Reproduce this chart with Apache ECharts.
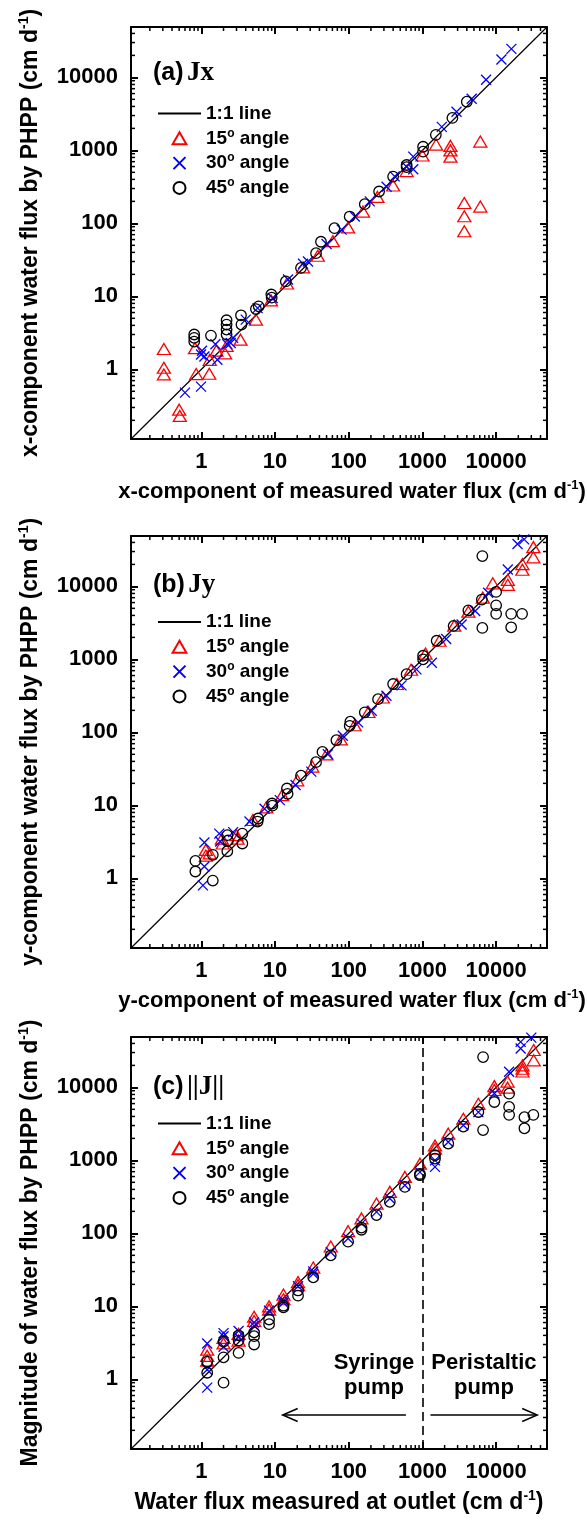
<!DOCTYPE html>
<html><head><meta charset="utf-8">
<script src="https://cdn.jsdelivr.net/npm/echarts@6/dist/echarts.min.js"></script>
<style>html,body{margin:0;padding:0;background:#fff}#c{width:587px;height:1522px}</style>
</head><body><div id="c"></div>
<script>
// ---------------- data ----------------
const AXIS_MIN = 0.111, AXIS_MAX = 49000;
const majorTickLabels = ['1', '10', '100', '1000', '10000'];
const minorMultipliers = [2, 3, 4, 5, 6, 7, 8, 9];
const minorDecades = [0.1, 1, 10, 100, 1000, 10000];

const seriesNames = ['1:1 line', '15° angle', '30° angle', '45° angle'];

// panel (a) Jx
const a15 = [[0.31,1.9],[0.31,1.05],[0.31,0.85],[0.50,0.28],[0.51,0.23],[0.82,1.95],[0.85,0.86],[1.28,0.87],[1.3,1.35],[1.6,1.8],[2.1,1.65],[2.2,2.1],[3.4,2.55],[5.5,4.8],[8.8,8.8],[14.5,15],[24,25],[38,36],[61,57],[98,88],[156,145],[245,230],[400,330],[610,520],[1000,850],[1530,1200],[2400,1150],[2400,1000],[2400,820],[3700,190],[3700,125],[3700,78],[6100,1320],[6100,170]];
const a30 = [[0.60,0.48],[0.99,0.58],[0.99,1.6],[1.02,1.8],[1.1,1.5],[1.55,2.2],[1.65,1.35],[2.25,2.2],[2.5,2.3],[2.7,2.7],[4.0,4.8],[5.8,6.9],[9.3,9.5],[15,17],[24,28],[28,30],[50,52],[80,82],[121,124],[193,200],[326,318],[420,440],[610,595],[750,550],[750,820],[1830,2100],[2900,3380],[4660,5100],[7300,9300],[11800,17600],[16100,24600]];
const a45 = [[0.80,3.0],[0.80,2.7],[0.80,2.4],[1.35,2.9],[2.2,4.7],[2.2,4.1],[2.2,3.5],[2.2,3.0],[3.45,5.5],[3.5,4.1],[5.5,6.7],[6.0,7.3],[8.9,10.6],[9.0,9.6],[14,16],[22.5,24.5],[36,39],[42,56],[64,86],[103,124],[165,183],[258,273],[400,437],[610,630],[610,590],[1020,1120],[1020,960],[1520,1630],[2550,2780],[4000,4640]];

// panel (b) Jy
const b15 = [[1.15,2.45],[1.15,2.05],[1.3,2.2],[1.9,3.5],[1.95,3.0],[3.0,3.9],[3.1,3.5],[5.0,6.3],[7.6,9.4],[12.5,13.8],[20,22],[32,34],[50,50],[78,80],[120,125],[185,190],[290,300],[450,460],[700,720],[1100,1200],[1700,1800],[2700,2900],[4200,4500],[6600,7000],[9000,11000],[14400,12300],[14400,10500],[22700,20200],[22700,16900],[32000,34500],[32000,25000]];
const b30 = [[1.05,0.80],[1.1,1.45],[1.1,3.1],[1.75,4.1],[1.8,3.2],[2.7,4.3],[4.5,6.0],[7.2,9.0],[11.6,11.8],[19,19],[31,29],[52,50],[83,90],[134,137],[205,198],[325,318],[520,440],[830,730],[1340,900],[2100,1900],[3400,3000],[5200,4600],[7800,8200],[14400,17000],[19500,38000],[24000,44000]];
const b45 = [[0.83,1.73],[0.83,1.24],[1.43,2.1],[1.43,0.93],[2.25,2.35],[2.25,3.9],[2.3,3.3],[3.6,3.0],[3.6,4.1],[5.8,6.0],[5.9,6.6],[9.1,10.6],[9.2,9.9],[14.5,17],[14.8,14.4],[22.5,25.5],[36,39],[44,54],[68,78],[103,123],[105,140],[165,188],[250,285],[400,460],[610,627],[1020,1120],[1020,1000],[1560,1800],[2650,2870],[4200,4700],[6400,6600],[6500,26000],[6500,2700],[10000,8400],[10000,5500],[10000,4200],[16000,2750],[16000,4200],[22500,4200]];

// panel (c) ||J||
const c15 = [[1.2,2.55],[1.2,2.1],[1.2,1.8],[2.0,3.7],[2.0,3.1],[3.2,4.2],[3.2,3.4],[5.2,7.2],[5.2,6.3],[8.3,10],[8.3,9],[13,14.5],[13,12.5],[20.5,21.5],[20.5,19.5],[33,34],[57,66],[98,107],[149,160],[238,256],[361,370],[578,593],[925,900],[1480,1450],[1480,1600],[2240,2320],[3590,3720],[5740,5950],[9460,10400],[9460,9200],[14300,12000],[14300,9900],[22800,20000],[22800,16500],[22800,18000],[32300,32500],[32300,23500]];
const c30 = [[1.2,3.1],[1.2,1.35],[1.2,0.77],[2.0,4.3],[2.0,3.9],[2.0,2.8],[3.2,4.6],[3.2,3.8],[5.2,6.0],[5.2,5.4],[8.3,8.7],[13,11.2],[13,12],[20.5,18.8],[33,30],[33,28],[57,55],[98,85],[149,136],[238,197],[361,300],[578,457],[925,690],[1480,1000],[1480,815],[2240,1780],[3590,3020],[5740,4580],[9460,8250],[15000,16400],[21500,42000],[21500,34000],[30000,48000]];
const c45 = [[1.2,1.75],[1.2,1.23],[2.0,3.3],[2.0,2.0],[2.0,0.9],[3.2,4.0],[3.2,3.4],[3.2,2.3],[5.2,4.4],[5.2,3.9],[5.2,3.0],[8.3,6.6],[8.3,5.7],[13,10.2],[13,9.7],[20.5,16.5],[20.5,14],[33,25],[57,50],[98,77],[149,120],[149,112],[238,178],[361,270],[578,433],[925,626],[925,650],[1480,1175],[1480,1055],[2240,1700],[3590,2900],[5740,4600],[6650,26000],[6650,2600],[9460,6300],[15000,8200],[15000,5400],[15000,4200],[24200,3900],[24200,2750],[32000,4200]];

// annotations in panel (c)
const pumpBoundary = 1000;
const pumpArrows = [[597, 12.7, 0.324], [1285, 36100, 0.324]];
const pumpLabels = ['Syringe\npump', 'Peristaltic\npump'];
const pumpLabelPos = [[220, 1.12], [6830, 1.12]];

const panelTitles = [['(a)', 'Jx'], ['(b)', 'Jy'], ['(c)', '||J||']];
const xNames = ['x-component of measured water flux (cm d', 'y-component of measured water flux (cm d', 'Water flux measured at outlet (cm d'];
const yNames = ['x-component water flux by PHPP (cm d', 'y-component water flux by PHPP (cm d', 'Magnitude of water flux by PHPP (cm d'];

// ---------------- chart ----------------
const minorTicks = [];
minorDecades.forEach(d => minorMultipliers.forEach(m => {
  const v = +(m * d).toPrecision(3);
  if (v > AXIS_MIN && v < AXIS_MAX) minorTicks.push(v);
}));

const SANS = '"Liberation Sans", Arial, Helvetica, sans-serif';
const SERIF = '"Liberation Serif", "Times New Roman", serif';
const panelData = [[a15, a30, a45], [b15, b30, b45], [c15, c30, c45]];
const gridTops = [27, 536, 1037];
const GRID_LEFT = 131, GRID_W = 416, GRID_H = 412;

function makeNameRich(fs) {
  return {
    n: {fontSize: fs, fontWeight: 'bold', fontFamily: SANS, color: '#000', lineHeight: fs + 4},
    s: {fontSize: Math.round(fs * 0.6), fontWeight: 'bold', fontFamily: SANS, color: '#000', lineHeight: 13, verticalAlign: 'top'}
  };
}
function richName(t) { return '{n|' + t + '}{s|-1}{n|)}'; }

function fmtLegend(name) {
  const p = name.split('°');
  if (p.length === 2) return '{n|' + p[0] + '}{s|o}{n|' + p[1] + '}';
  return '{n|' + name + '}';
}
const legendRich = {
  n: {fontSize: 19, fontWeight: 'bold', fontFamily: SANS, color: '#000', lineHeight: 22},
  s: {fontSize: 12, fontWeight: 'bold', fontFamily: SANS, color: '#000', lineHeight: 12, verticalAlign: 'top'}
};

function tickFmt(v) {
  const r = String(Math.round(v));
  return majorTickLabels.indexOf(r) >= 0 && Math.abs(v - Math.round(v)) < 1e-6 * Math.max(1, v) ? r : '';
}

const grid = [], xAxis = [], yAxis = [], series = [], legend = [], graphic = [];
const axisLineStyle = {color: '#000', width: 2};
const tickStyle = {color: '#000', width: 2};
const labelStyle = {color: '#000', fontSize: 22, fontWeight: 'bold', fontFamily: SANS, lineHeight: 24};

function renderMinor(params, api) {
  const v = api.value(0);
  const cs = params.coordSys;
  const px = api.coord([v, AXIS_MIN])[0];
  const py = api.coord([AXIS_MIN, v])[1];
  const L = 4, st = {stroke: '#000', lineWidth: 1.5};
  const b = cs.y + cs.height, r = cs.x + cs.width;
  return {type: 'group', children: [
    {type: 'line', shape: {x1: px, y1: b, x2: px, y2: b - L}, style: st},
    {type: 'line', shape: {x1: px, y1: cs.y, x2: px, y2: cs.y + L}, style: st},
    {type: 'line', shape: {x1: cs.x, y1: py, x2: cs.x + L, y2: py}, style: st},
    {type: 'line', shape: {x1: r, y1: py, x2: r - L, y2: py}, style: st}
  ]};
}

function renderArrow(params, api) {
  const p1 = api.coord([api.value(0), api.value(2)]);
  const p2 = api.coord([api.value(1), api.value(2)]);
  const d = p2[0] > p1[0] ? 1 : -1;
  const st = {stroke: '#000', lineWidth: 1.5, fill: 'none'};
  return {type: 'group', children: [
    {type: 'line', shape: {x1: p1[0], y1: p1[1], x2: p2[0], y2: p2[1]}, style: st},
    {type: 'polyline', shape: {points: [[p2[0] - d * 15, p2[1] - 6.5], [p2[0], p2[1]], [p2[0] - d * 15, p2[1] + 6.5]]}, style: st}
  ]};
}

function renderPumpLabel(params, api) {
  const p = api.coord([api.value(0), api.value(1)]);
  return {type: 'text', x: p[0], y: p[1], style: {
    text: pumpLabels[params.dataIndex], fill: '#000', fontSize: 22, fontWeight: 'bold', fontFamily: SANS,
    align: 'center', verticalAlign: 'middle', lineHeight: 25
  }};
}

const styles = [
  {symbol: 'triangle', symbolSize: [13, 11], color: '#ff0000', icon: 'path://M5,0L10,8.7L0,8.7Z'},
  {symbol: 'path://M0,0L10,10M10,0L0,10', symbolSize: 10, color: '#0000ff', icon: 'path://M0,0L10,10M10,0L0,10'},
  {symbol: 'circle', symbolSize: 10.5, color: '#000000', icon: 'circle'}
];

const xNameFont = [22, 22, 23];
const xNamePad = [[0, 0, 0, 26], [0, 0, 0, 26], 0];

for (let i = 0; i < 3; i++) {
  grid.push({left: GRID_LEFT, top: gridTops[i], width: GRID_W, height: GRID_H, outerBoundsMode: 'none', containLabel: false});
  xAxis.push({
    type: 'log', logBase: 10, gridIndex: i, position: 'bottom', min: AXIS_MIN, max: AXIS_MAX,
    axisLine: {show: true, lineStyle: axisLineStyle},
    axisTick: {show: true, inside: true, length: 7, lineStyle: tickStyle, interval: 0},
    axisLabel: Object.assign({show: true, margin: 11, interval: 0, showMinLabel: false, showMaxLabel: false, formatter: tickFmt}, labelStyle),
    splitLine: {show: false}, minorTick: {show: false},
    name: richName(xNames[i]), nameLocation: 'middle', nameGap: 40,
    nameTextStyle: {rich: makeNameRich(xNameFont[i]), padding: xNamePad[i]}
  });
  yAxis.push({
    type: 'log', logBase: 10, gridIndex: i, position: 'left', min: AXIS_MIN, max: AXIS_MAX,
    axisLine: {show: true, lineStyle: axisLineStyle},
    axisTick: {show: true, inside: true, length: 7, lineStyle: tickStyle, interval: 0},
    axisLabel: Object.assign({show: true, margin: 13, interval: 0, showMinLabel: false, showMaxLabel: false, formatter: tickFmt}, labelStyle),
    splitLine: {show: false}, minorTick: {show: false},
    name: richName(yNames[i]), nameLocation: 'middle', nameGap: 87, nameRotate: 90,
    nameTextStyle: {rich: makeNameRich(23)}
  });
}
for (let i = 0; i < 3; i++) {
  xAxis.push({
    type: 'log', logBase: 10, gridIndex: i, position: 'top', min: AXIS_MIN, max: AXIS_MAX,
    axisLine: {show: true, lineStyle: axisLineStyle},
    axisTick: {show: true, inside: true, length: 7, lineStyle: tickStyle, interval: 0},
    axisLabel: {show: false}, splitLine: {show: false}
  });
  yAxis.push({
    type: 'log', logBase: 10, gridIndex: i, position: 'right', min: AXIS_MIN, max: AXIS_MAX,
    axisLine: {show: true, lineStyle: axisLineStyle},
    axisTick: {show: true, inside: true, length: 7, lineStyle: tickStyle, interval: 0},
    axisLabel: {show: false}, splitLine: {show: false}
  });
}

for (let i = 0; i < 3; i++) {
  const lineSeries = {
    name: seriesNames[0], type: 'line', xAxisIndex: i, yAxisIndex: i, symbol: 'none', silent: true,
    data: [[AXIS_MIN, AXIS_MIN], [AXIS_MAX, AXIS_MAX]],
    itemStyle: {color: 'rgba(0,0,0,0)', borderWidth: 0},
    lineStyle: {color: '#000', width: 1.2}, emphasis: {disabled: true}, z: 2
  };
  if (i === 2) {
    lineSeries.markLine = {
      silent: true, symbol: ['none', 'none'], label: {show: false}, animation: false,
      lineStyle: {color: '#000', width: 1.6, type: [9, 5]},
      data: [{xAxis: pumpBoundary}]
    };
  }
  series.push(lineSeries);
  for (let k = 0; k < 3; k++) {
    series.push({
      name: seriesNames[k + 1], type: 'scatter', xAxisIndex: i, yAxisIndex: i,
      symbol: styles[k].symbol, symbolSize: styles[k].symbolSize, symbolKeepAspect: true,
      data: panelData[i][k],
      itemStyle: {color: 'rgba(0,0,0,0)', borderColor: styles[k].color, borderWidth: 1.3, opacity: 1},
      emphasis: {disabled: true}, silent: true, z: 3 + k
    });
  }
  series.push({
    type: 'custom', xAxisIndex: i, yAxisIndex: i, renderItem: renderMinor, silent: true, clip: false,
    data: minorTicks.map(v => [v, v]), z: 10
  });
  legend.push({
    top: [104, 612.5, 1114][i], left: 157, orient: 'vertical', itemWidth: 43, itemHeight: 12, itemGap: 4.3,
    padding: 0, selectedMode: false, symbolKeepAspect: true,
    data: [
      {name: seriesNames[0]},
      {name: seriesNames[1], icon: styles[0].icon},
      {name: seriesNames[2], icon: styles[1].icon},
      {name: seriesNames[3], icon: styles[2].icon}
    ],
    formatter: fmtLegend,
    textStyle: {rich: legendRich}
  });
  graphic.push({
    type: 'text', x: 153, y: [73, 585, 1087][i],
    style: {
      text: '{a|' + panelTitles[i][0] + '} {b|' + panelTitles[i][1] + '}',
      verticalAlign: 'middle',
      rich: {
        a: {fontSize: 25, fontWeight: 'bold', fontFamily: SANS, fill: '#000'},
        b: {fontSize: 27, fontWeight: 'bold', fontFamily: SERIF, fill: '#000'}
      }
    }
  });
}

series.push({
  type: 'custom', xAxisIndex: 2, yAxisIndex: 2, renderItem: renderArrow, silent: true, clip: false,
  encode: {x: [0, 1], y: 2}, data: pumpArrows, z: 8
});
series.push({
  type: 'custom', xAxisIndex: 2, yAxisIndex: 2, renderItem: renderPumpLabel, silent: true, clip: false,
  data: pumpLabelPos, z: 8
});

const chart = echarts.init(document.getElementById('c'), null, {renderer: 'canvas'});
chart.setOption({
  animation: false, backgroundColor: '#fff',
  grid, xAxis, yAxis, series, legend, graphic
});
</script></body></html>
